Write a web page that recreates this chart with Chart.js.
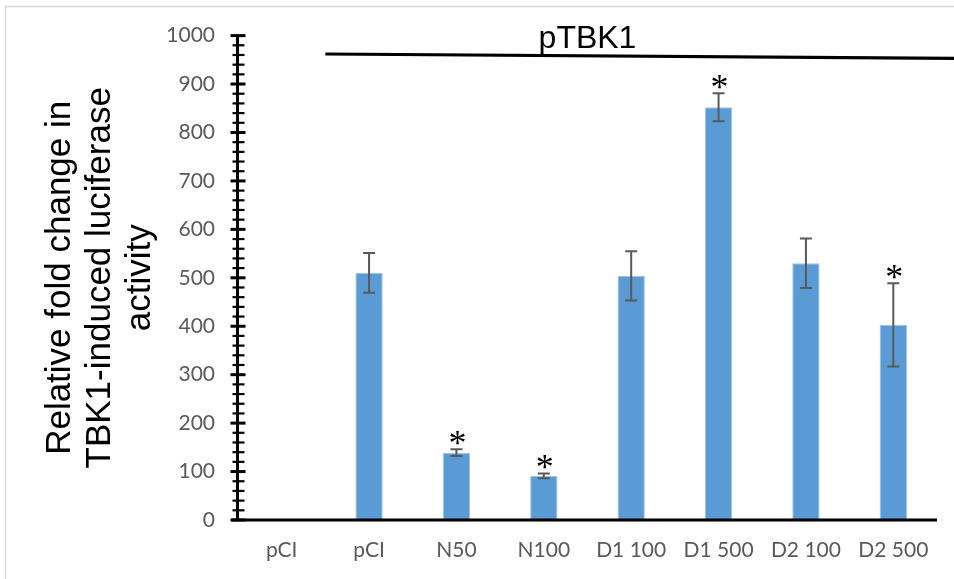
<!DOCTYPE html>
<html>
<head>
<meta charset="utf-8">
<script src="https://cdn.jsdelivr.net/npm/chart.js@4/dist/chart.umd.min.js"></script>
<style>
  html, body { margin: 0; padding: 0; background: #fff; }
  canvas { display: block; }
</style>
</head>
<body>
<canvas id="chart" width="954" height="579"></canvas>
<script>
const categories = ['pCI', 'pCI', 'N50', 'N100', 'D1 100', 'D1 500', 'D2 100', 'D2 500'];
const values = [1, 510, 139, 91, 504, 852, 530, 403];
const errors = [0, 41, 7, 5, 51, 29, 51, 86];
const significant = [false, false, true, true, false, true, false, true];
const yTicks = [0, 100, 200, 300, 400, 500, 600, 700, 800, 900, 1000];
const bracketLabel = 'pTBK1';

const tickFont = { family: 'Lato', size: 21 };
const tickColor = '#595959';

// axis lines with crossing major/minor ticks, like the excel original
const axesPlugin = {
  id: 'axes',
  beforeDraw(chart) {
    const ctx = chart.ctx;
    ctx.save();
    ctx.strokeStyle = '#d9d9d9';
    ctx.lineWidth = 1.5;
    ctx.strokeRect(5.5, 6.5, 1000, 1000);
    ctx.restore();
  },
  afterDatasetsDraw(chart) {
    const ctx = chart.ctx;
    const y = chart.scales.y;
    const ax = chart.chartArea.left - 0.5;
    ctx.save();
    ctx.strokeStyle = '#000';
    // minor ticks every 20
    ctx.lineWidth = 2.2;
    for (let v = 0; v <= 1000; v += 20) {
      if (v % 100 === 0) continue;
      const py = y.getPixelForValue(v);
      ctx.beginPath();
      ctx.moveTo(ax - 5, py);
      ctx.lineTo(ax + 7, py);
      ctx.stroke();
    }
    ctx.lineWidth = 3;
    yTicks.forEach(v => {
      const py = y.getPixelForValue(v);
      ctx.beginPath();
      ctx.moveTo(ax - 7, py);
      ctx.lineTo(ax + 8, py);
      ctx.stroke();
    });
    ctx.beginPath();
    ctx.moveTo(ax, y.getPixelForValue(1000) - 1);
    ctx.lineTo(ax, y.getPixelForValue(0) + 1);
    ctx.stroke();
    ctx.beginPath();
    ctx.moveTo(ax - 6, y.getPixelForValue(0));
    ctx.lineTo(chart.chartArea.right, y.getPixelForValue(0));
    ctx.stroke();
    ctx.restore();
  }
};

// error bars, significance stars and the pTBK1 bracket
const marksPlugin = {
  id: 'marks',
  afterDatasetsDraw(chart) {
    const ctx = chart.ctx;
    const x = chart.scales.x, y = chart.scales.y;
    const meta = chart.getDatasetMeta(0);
    ctx.save();
    ctx.strokeStyle = '#595959';
    ctx.lineWidth = 2;
    meta.data.forEach((bar, i) => {
      if (!errors[i]) return;
      const top = y.getPixelForValue(values[i] + errors[i]);
      const bot = y.getPixelForValue(values[i] - errors[i]);
      ctx.beginPath();
      ctx.moveTo(bar.x, top);
      ctx.lineTo(bar.x, bot);
      ctx.moveTo(bar.x - 6, top);
      ctx.lineTo(bar.x + 6, top);
      ctx.moveTo(bar.x - 6, bot);
      ctx.lineTo(bar.x + 6, bot);
      ctx.stroke();
    });

    ctx.fillStyle = '#000';
    ctx.font = '36px "Liberation Serif"';
    ctx.textAlign = 'center';
    ctx.textBaseline = 'alphabetic';
    const m = ctx.measureText('*');
    const mid = (m.actualBoundingBoxAscent - m.actualBoundingBoxDescent) / 2;
    meta.data.forEach((bar, i) => {
      if (!significant[i]) return;
      const top = y.getPixelForValue(values[i] + errors[i]);
      ctx.fillText('*', bar.x + 1, top - 11 + mid);
    });

    // bracket line over the pTBK1 groups
    ctx.strokeStyle = '#000';
    ctx.lineWidth = 3.2;
    const lx = x.getPixelForValue(0.5);
    const ly = y.getPixelForValue(962);
    ctx.beginPath();
    ctx.moveTo(lx, ly);
    ctx.lineTo(chart.width, y.getPixelForValue(953));
    ctx.stroke();
    ctx.font = '32px "Liberation Sans"';
    ctx.fillText(bracketLabel, x.getPixelForValue(3.5), ly - 6);
    ctx.restore();
  }
};

new Chart(document.getElementById('chart'), {
  type: 'bar',
  data: {
    labels: categories,
    datasets: [{
      data: values,
      backgroundColor: '#5B9BD5',
      borderColor: '#9fc3e9',
      borderWidth: 1,
      borderSkipped: 'bottom',
      categoryPercentage: 1,
      barPercentage: 0.313
    }]
  },
  options: {
    responsive: false,
    animation: false,
    layout: { padding: { top: 35, right: 17, bottom: 0, left: 0 } },
    plugins: {
      legend: { display: false },
      tooltip: { enabled: false }
    },
    scales: {
      x: {
        grid: { display: false, drawTicks: false },
        border: { display: false },
        ticks: { font: tickFont, color: tickColor, padding: 18, maxRotation: 0 },
        afterFit: s => { s.height = 59; }
      },
      y: {
        min: 0,
        max: 1000,
        grid: { display: false, drawTicks: false },
        border: { display: false },
        afterBuildTicks: s => { s.ticks = yTicks.map(v => ({ value: v })); },
        ticks: { font: tickFont, color: tickColor, padding: 23, callback: v => String(v) },
        title: {
          display: true,
          text: ['Relative fold change in', 'TBK1-induced luciferase', 'activity'],
          font: { family: 'Liberation Sans', size: 35, lineHeight: '40px' },
          color: '#000',
          padding: { top: 40, bottom: 0 }
        },
        afterFit: s => { s.width = 238; }
      }
    }
  },
  plugins: [axesPlugin, marksPlugin]
});
</script>
</body>
</html>
